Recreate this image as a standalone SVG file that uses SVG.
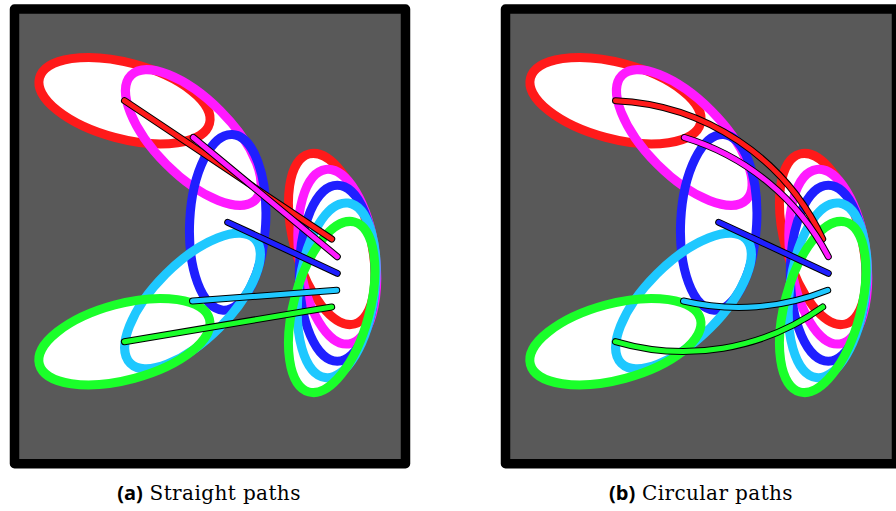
<svg xmlns="http://www.w3.org/2000/svg" width="896" height="511" viewBox="0 0 896 511">
  <style>
    .frame { fill: #595959; stroke: #000; stroke-width: 9.5; stroke-linejoin: round; }
    .fill { fill: #fff; stroke: none; }
    .ring { fill: none; stroke-width: 9; }
    .r { stroke: #ff1a1a; }
    .m { stroke: #ff1aff; }
    .b { stroke: #1f1fff; }
    .c { stroke: #1ec8ff; }
    .g { stroke: #1aff2a; }
    .out { fill: none; stroke: #000; stroke-width: 7; stroke-linecap: round; }
    .core { fill: none; stroke-width: 5; stroke-linecap: round; }
    .lab { font-size: 20px; fill: #000; }
    .tag { font-family: "Open Sans", "DejaVu Sans", sans-serif; font-weight: bold; }
    .cap { font-family: "DejaVu Serif", "Liberation Serif", serif; letter-spacing: 0.4px; }
  </style>
  <defs>
    <ellipse id="e" cx="0" cy="0" rx="88" ry="38"/>
  </defs>

  <!-- Panel (a) -->
  <g id="panel-a">
    <rect class="frame" x="14.5" y="9" width="391" height="454.7"/>
    <g id="a-fills">
      <use href="#e" class="fill" transform="translate(124.5 100.7) rotate(15)"/>
      <use href="#e" class="fill" transform="translate(193.3 137.5) rotate(45)"/>
      <use href="#e" class="fill" transform="translate(227.7 222.3) rotate(93)"/>
      <use href="#e" class="fill" transform="translate(192.5 301) rotate(135)"/>
      <use href="#e" class="fill" transform="translate(124.4 341.7) rotate(165)"/>
      <use href="#e" class="fill" transform="translate(331.7 239) rotate(75)"/>
      <use href="#e" class="fill" transform="translate(337.3 256.7) rotate(82.5)"/>
      <use href="#e" class="fill" transform="translate(337.3 273.3) rotate(90)"/>
      <use href="#e" class="fill" transform="translate(336.7 290.3) rotate(97.5)"/>
      <use href="#e" class="fill" transform="translate(331.7 307) rotate(105)"/>
    </g>
    <g id="a-left-red"><use href="#e" class="ring r" transform="translate(124.5 100.7) rotate(15)"/></g>
    <g id="a-left-magenta"><use href="#e" class="ring m" transform="translate(193.3 137.5) rotate(45)"/></g>
    <g id="a-left-blue"><use href="#e" class="ring b" transform="translate(227.7 222.3) rotate(93)"/></g>
    <g id="a-left-cyan"><use href="#e" class="ring c" transform="translate(192.5 301) rotate(135)"/></g>
    <g id="a-left-green"><use href="#e" class="ring g" transform="translate(124.4 341.7) rotate(165)"/></g>
    <g id="a-right-red"><use href="#e" class="ring r" transform="translate(331.7 239) rotate(75)"/></g>
    <g id="a-right-magenta"><use href="#e" class="ring m" transform="translate(337.3 256.7) rotate(82.5)"/></g>
    <g id="a-right-blue"><use href="#e" class="ring b" transform="translate(337.3 273.3) rotate(90)"/></g>
    <g id="a-right-cyan"><use href="#e" class="ring c" transform="translate(336.7 290.3) rotate(97.5)"/></g>
    <g id="a-right-green"><use href="#e" class="ring g" transform="translate(331.7 307) rotate(105)"/></g>
    <g id="a-connectors">
      <path class="out" d="M124.5 100.7 L331.7 239"/><path class="core r" d="M124.5 100.7 L331.7 239"/>
      <path class="out" d="M193.3 137.5 L337.3 256.7"/><path class="core m" d="M193.3 137.5 L337.3 256.7"/>
      <path class="out" d="M227.7 222.3 L337.3 273.3"/><path class="core b" d="M227.7 222.3 L337.3 273.3"/>
      <path class="out" d="M192.5 301 L336.7 290.3"/><path class="core c" d="M192.5 301 L336.7 290.3"/>
      <path class="out" d="M124.4 341.7 L331.7 307"/><path class="core g" d="M124.4 341.7 L331.7 307"/>
    </g>
  </g>

  <!-- Panel (b) -->
  <g id="panel-b" transform="translate(491 0)">
    <rect class="frame" x="14.5" y="9" width="391" height="454.7"/>
    <g id="b-fills">
      <use href="#e" class="fill" transform="translate(124.5 100.7) rotate(15)"/>
      <use href="#e" class="fill" transform="translate(193.3 137.5) rotate(45)"/>
      <use href="#e" class="fill" transform="translate(227.7 222.3) rotate(93)"/>
      <use href="#e" class="fill" transform="translate(192.5 301) rotate(135)"/>
      <use href="#e" class="fill" transform="translate(124.4 341.7) rotate(165)"/>
      <use href="#e" class="fill" transform="translate(331.7 239) rotate(75)"/>
      <use href="#e" class="fill" transform="translate(337.3 256.7) rotate(82.5)"/>
      <use href="#e" class="fill" transform="translate(337.3 273.3) rotate(90)"/>
      <use href="#e" class="fill" transform="translate(336.7 290.3) rotate(97.5)"/>
      <use href="#e" class="fill" transform="translate(331.7 307) rotate(105)"/>
    </g>
    <g id="b-left-red"><use href="#e" class="ring r" transform="translate(124.5 100.7) rotate(15)"/></g>
    <g id="b-left-magenta"><use href="#e" class="ring m" transform="translate(193.3 137.5) rotate(45)"/></g>
    <g id="b-left-blue"><use href="#e" class="ring b" transform="translate(227.7 222.3) rotate(93)"/></g>
    <g id="b-left-cyan"><use href="#e" class="ring c" transform="translate(192.5 301) rotate(135)"/></g>
    <g id="b-left-green"><use href="#e" class="ring g" transform="translate(124.4 341.7) rotate(165)"/></g>
    <g id="b-right-red"><use href="#e" class="ring r" transform="translate(331.7 239) rotate(75)"/></g>
    <g id="b-right-magenta"><use href="#e" class="ring m" transform="translate(337.3 256.7) rotate(82.5)"/></g>
    <g id="b-right-blue"><use href="#e" class="ring b" transform="translate(337.3 273.3) rotate(90)"/></g>
    <g id="b-right-cyan"><use href="#e" class="ring c" transform="translate(336.7 290.3) rotate(97.5)"/></g>
    <g id="b-right-green"><use href="#e" class="ring g" transform="translate(331.7 307) rotate(105)"/></g>
    <g id="b-connectors">
      <path class="out" d="M124.5 100.7 A240 240 0 0 1 331.7 239"/><path class="core r" d="M124.5 100.7 A240 240 0 0 1 331.7 239"/>
      <path class="out" d="M193.3 137.5 A240 240 0 0 1 337.3 256.7"/><path class="core m" d="M193.3 137.5 A240 240 0 0 1 337.3 256.7"/>
      <path class="out" d="M227.7 222.3 L337.3 273.3"/><path class="core b" d="M227.7 222.3 L337.3 273.3"/>
      <path class="out" d="M192.5 301 A240 240 0 0 0 336.7 290.3"/><path class="core c" d="M192.5 301 A240 240 0 0 0 336.7 290.3"/>
      <path class="out" d="M124.4 341.7 A240 240 0 0 0 331.7 307"/><path class="core g" d="M124.4 341.7 A240 240 0 0 0 331.7 307"/>
    </g>
  </g>

  <g id="captions">
    <text class="lab" x="209" y="500" text-anchor="middle"><tspan class="tag">(a)</tspan><tspan class="cap"> Straight paths</tspan></text>
    <text class="lab" x="701" y="500" text-anchor="middle"><tspan class="tag">(b)</tspan><tspan class="cap"> Circular paths</tspan></text>
  </g>
</svg>
